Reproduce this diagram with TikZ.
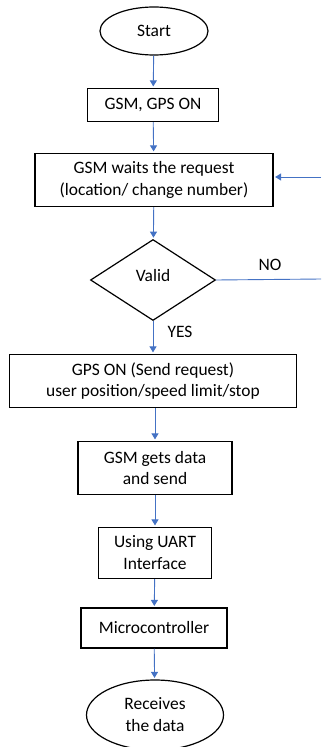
\documentclass[tikz,border=0pt]{standalone}
\usepackage{fontspec}
\setmainfont{Carlito}
\usetikzlibrary{shapes.geometric,arrows.meta}
\definecolor{arrowblue}{RGB}{68,114,196}
\tikzset{
  txt/.style={font=\fontsize{17.5}{22}\selectfont},
  box/.style={txt,draw=black,line width=1.2bp,rectangle,inner sep=0pt,align=center},
  term/.style={txt,draw=black,line width=1.2bp,ellipse,inner sep=0pt,align=center},
  decide/.style={draw=black,line width=1.2bp,diamond,inner sep=0pt,aspect=1.54},
  flow/.style={draw=arrowblue,line width=0.9bp,-{Triangle[width=7bp,length=6bp]},shorten >=1.5bp},
  plain/.style={draw=arrowblue,line width=0.9bp},
  lbl/.style={txt,inner sep=0pt}
}
\begin{document}
\begin{tikzpicture}[x=1bp,y=-1bp]
\useasboundingbox (0,0) rectangle (321,747);
\node[term,minimum width=108bp,minimum height=48bp] (start) at (154,31) {Start};
\node[box,minimum width=131bp,minimum height=33bp] (on) at (153,105) {GSM, GPS ON};
\node[box,minimum width=238bp,minimum height=53bp] (wait) at (154,180) {GSM waits the request\\(location/ change number)};
\node[decide,minimum width=125bp,minimum height=81bp] (valid) at (153,280) {};
\node[lbl] (validtxt) at (153,276) {Valid};
\node[box,minimum width=287bp,minimum height=53bp] (gps) at (153,381) {GPS ON (Send request)\\user position/speed limit/stop};
\node[box,minimum width=154bp,minimum height=53bp] (gets) at (155,468) {GSM gets data\\and send};
\node[box,minimum width=113bp,minimum height=51bp] (uart) at (155,553) {Using UART\\Interface};
\node[box,minimum width=146bp,minimum height=40bp] (mcu) at (154,628) {Microcontroller};
\node[term,minimum width=137bp,minimum height=70bp] (recv) at (155,715) {Receives\\the data};
\node[lbl] (no) at (270,265) {NO};
\node[lbl] (yes) at (180,332) {YES};
\coordinate (rtop) at (321,177);
\coordinate (rbot) at (321,279);
\draw[flow] (start) -- (on);
\draw[flow] (on) -- (wait);
\draw[flow] (wait) -- (valid);
\draw[flow] (valid) -- (gps);
\draw[flow] (gps.south -| gets.north) -- (gets);
\draw[flow] (gets) -- (uart);
\draw[flow] (uart) -- (mcu);
\draw[flow] (mcu) -- (recv);
\draw[flow] (rtop) -- (rtop -| wait.east);
\draw[plain] (valid.east) -- (rbot);
\end{tikzpicture}
\end{document}
